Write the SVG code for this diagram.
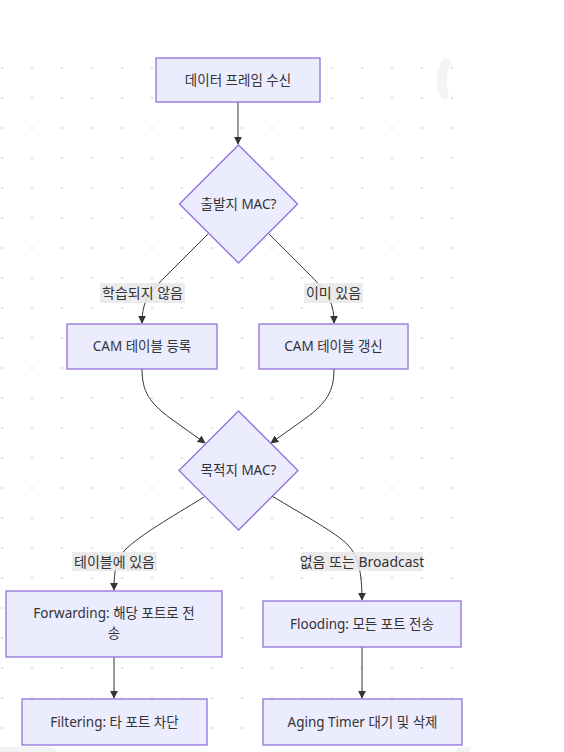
<svg xmlns="http://www.w3.org/2000/svg" width="564" height="752" viewBox="0 0 564 752">
<style>
.node rect, .node polygon { fill: #ECECFF; stroke: #9370DB; stroke-width: 1.3; }
.t { font-family: "Noto Sans", "Noto Sans CJK KR", sans-serif; font-size: 13.5px; fill: #333333; text-anchor: middle; }
.elbl text { font-size: 14px; }
.edge { fill: none; stroke: #333333; stroke-width: 1; marker-end: url(#arrow); }
.elbl rect { fill: #e8e8e8; fill-opacity: 0.85; }
</style>
<defs>
<pattern id="dots" x="0" y="0" width="30" height="30" patternUnits="userSpaceOnUse">
<circle cx="2" cy="8" r="1.3" fill="#e3e3e3"/>
</pattern>
<marker id="arrow" viewBox="0 0 10 10" refX="9" refY="5" markerWidth="8" markerHeight="8" markerUnits="userSpaceOnUse" orient="auto">
<path d="M0,0 L10,5 L0,10 z" fill="#333333"/>
</marker>
</defs>
<rect x="0" y="0" width="564" height="752" fill="#ffffff"/>
<rect x="0" y="50" width="462" height="702" fill="url(#dots)"/>
<g id="bg-marks">
<path d="M444,58 C436,68 434,84 440,96 C444,102 450,100 449,94 C445,86 446,72 452,60 Z" fill="#f3f4f8"/>
<path d="M0,747 L46,747 Q56,747 56,752 L0,752 Z" fill="#f3f3f6"/>
<path d="M470,747 L465,747 Q455,747 455,752 L470,752 Z" fill="#f3f3f6"/>
</g>
<g id="connectors">
<path class="edge" d="M238,102 L238,144"/>
<path class="edge" d="M208,234 L168,274 C150,292 142,300 142,323"/>
<path class="edge" d="M269,234 L308,273 C326,291 334,300 334,323"/>
<path class="edge" d="M142,369 C142,392 150,403 170,418 L205,443"/>
<path class="edge" d="M334,369 C334,392 326,403 306,418 L271,443"/>
<path class="edge" d="M204,497 C170,518 140,535 125,550 C116,560 114,570 114,590"/>
<path class="edge" d="M272,496 C305,516 335,532 348,545 C358,556 362,572 362,600"/>
<path class="edge" d="M114,657 L114,698"/>
<path class="edge" d="M362,647 L362,698"/>
</g>
<g id="edge-labels">
<g class="elbl"><rect x="100" y="283" width="85" height="20"/><text class="t" x="142.5" y="298">학습되지 않음</text></g>
<g class="elbl"><rect x="304" y="283" width="59" height="20"/><text class="t" x="333.5" y="298">이미 있음</text></g>
<g class="elbl"><rect x="72" y="552" width="85" height="19"/><text class="t" x="114.5" y="566.5">테이블에 있음</text></g>
<g class="elbl"><rect x="301" y="552" width="122" height="19"/><text class="t" x="362" y="566.5">없음 또는 Broadcast</text></g>
</g>
<g id="n1" class="node"><rect x="156" y="58" width="164" height="44"/><text class="t" x="238" y="84.5">데이터 프레임 수신</text></g>
<g id="n2" class="node"><polygon points="238.5,145 297.5,204 238.5,263 179.5,204"/><text class="t" x="238.5" y="208.5">출발지 MAC?</text></g>
<g id="n3" class="node"><rect x="67" y="324" width="150" height="45"/><text class="t" x="142" y="351">CAM 테이블 등록</text></g>
<g id="n4" class="node"><rect x="259" y="324" width="149" height="45"/><text class="t" x="333.5" y="351">CAM 테이블 갱신</text></g>
<g id="n5" class="node"><polygon points="238.5,411 298,470.5 238.5,530 179,470.5"/><text class="t" x="238.5" y="475">목적지 MAC?</text></g>
<g id="n6" class="node"><rect x="6" y="591" width="216" height="66"/><text class="t" x="114" y="618">Forwarding: 해당 포트로 전</text><text class="t" x="114" y="638">송</text></g>
<g id="n7" class="node"><rect x="263" y="601" width="198" height="46"/><text class="t" x="362" y="628.5">Flooding: 모든 포트 전송</text></g>
<g id="n8" class="node"><rect x="22" y="699" width="185" height="46"/><text class="t" x="114.5" y="726.5">Filtering: 타 포트 차단</text></g>
<g id="n9" class="node"><rect x="263" y="699" width="199" height="46"/><text class="t" x="362.5" y="726.5">Aging Timer 대기 및 삭제</text></g>
</svg>
